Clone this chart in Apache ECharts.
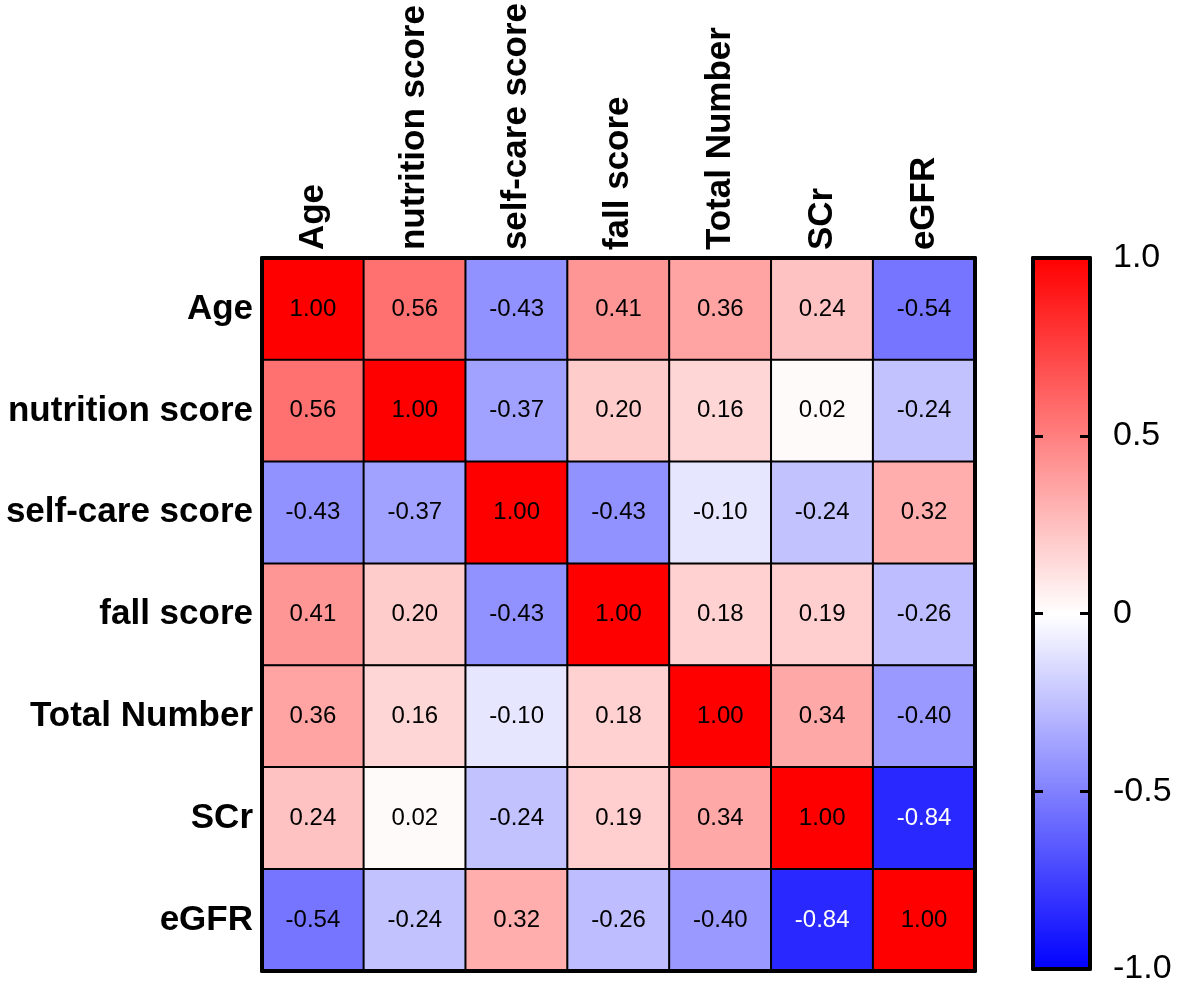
<!DOCTYPE html>
<html>
<head>
<meta charset="utf-8">
<script src="https://cdn.jsdelivr.net/npm/echarts@6/dist/echarts.min.js"></script>
<style>html,body{margin:0;padding:0;background:#fff;}#c{width:1179px;height:986px;}</style>
</head>
<body>
<div id="c"></div>
<script>
const variables = ['Age', 'nutrition score', 'self-care score', 'fall score', 'Total Number', 'SCr', 'eGFR'];
const rowAge       = [1.00, 0.56, -0.43, 0.41, 0.36, 0.24, -0.54];
const rowNutrition = [0.56, 1.00, -0.37, 0.20, 0.16, 0.02, -0.24];
const rowSelfCare  = [-0.43, -0.37, 1.00, -0.43, -0.10, -0.24, 0.32];
const rowFall      = [0.41, 0.20, -0.43, 1.00, 0.18, 0.19, -0.26];
const rowTotal     = [0.36, 0.16, -0.10, 0.18, 1.00, 0.34, -0.40];
const rowSCr       = [0.24, 0.02, -0.24, 0.19, 0.34, 1.00, -0.84];
const rowEGFR      = [-0.54, -0.24, 0.32, -0.26, -0.40, -0.84, 1.00];

const rows = [rowAge, rowNutrition, rowSelfCare, rowFall, rowTotal, rowSCr, rowEGFR];
const data = [];
rows.forEach((r, yi) => r.forEach((v, xi) => {
  data.push({ value: [xi, yi, v], label: { color: v < -0.7 ? '#fff' : '#000' } });
}));

const FONT = 'Liberation Sans';
const chart = echarts.init(document.getElementById('c'));
const lineStyle = { color: '#000', width: 4 };
const barAxisBase = {
  gridIndex: 1, type: 'value', min: -1, max: 1, interval: 0.5, z: 10, zlevel: 1,
  axisLine: { show: true, onZero: false, lineStyle: lineStyle },
  axisTick: { show: true, inside: true, length: 10, lineStyle: { color: '#000', width: 3 } },
  splitLine: { show: false }
};
const edgeX = pos => ({ gridIndex: 1, type: 'value', min: 0, max: 1, position: pos, z: 10, zlevel: 1,
  axisLine: { show: true, onZero: false, lineStyle: lineStyle },
  axisTick: { show: false }, axisLabel: { show: false }, splitLine: { show: false } });
chart.setOption({
  animation: false,
  backgroundColor: '#fff',
  grid: [
    { left: 262, top: 258, width: 713, height: 713 },
    { left: 1033, top: 258, width: 57, height: 713 }
  ],
  xAxis: [
    { type: 'category', data: variables, position: 'top', z: 10,
      axisLine: { show: true, onZero: false, lineStyle: lineStyle },
      axisTick: { show: false },
      axisLabel: { rotate: -90, margin: 8, fontFamily: FONT, fontWeight: 'bold', fontSize: 35, color: '#000' } },
    { type: 'category', data: variables, position: 'bottom', z: 10,
      axisLine: { show: true, onZero: false, lineStyle: lineStyle },
      axisTick: { show: false }, axisLabel: { show: false } },
    edgeX('top'),
    edgeX('bottom')
  ],
  yAxis: [
    { type: 'category', data: variables, inverse: true, position: 'left', z: 10,
      axisLine: { show: true, onZero: false, lineStyle: lineStyle },
      axisTick: { show: false },
      axisLabel: { margin: 9, fontFamily: FONT, fontWeight: 'bold', fontSize: 35, color: '#000' } },
    { type: 'category', data: variables, inverse: true, position: 'right', z: 10,
      axisLine: { show: true, onZero: false, lineStyle: lineStyle },
      axisTick: { show: false }, axisLabel: { show: false } },
    Object.assign({}, barAxisBase, { position: 'left', axisLabel: { show: false } }),
    Object.assign({}, barAxisBase, { position: 'right',
      axisLabel: { show: true, margin: 23, fontFamily: FONT, fontSize: 34, color: '#000',
        formatter: v => (v === 0 ? '0' : v.toFixed(1)) } })
  ],
  visualMap: {
    type: 'continuous', min: -1, max: 1, seriesIndex: 0, z: 1,
    calculable: false, orient: 'vertical',
    left: 1033, top: 258, itemWidth: 57, itemHeight: 713, padding: 0,
    inRange: { color: ['#0000FF', '#FFFFFF', '#FF0000'] }
  },
  series: [{
    type: 'heatmap', xAxisIndex: 0, yAxisIndex: 0, data: data,
    itemStyle: { borderColor: '#000', borderWidth: 2 },
    label: { show: true, fontFamily: FONT, fontSize: 24, formatter: p => p.value[2].toFixed(2) },
    emphasis: { disabled: true }
  }]
});
</script>
</body>
</html>
